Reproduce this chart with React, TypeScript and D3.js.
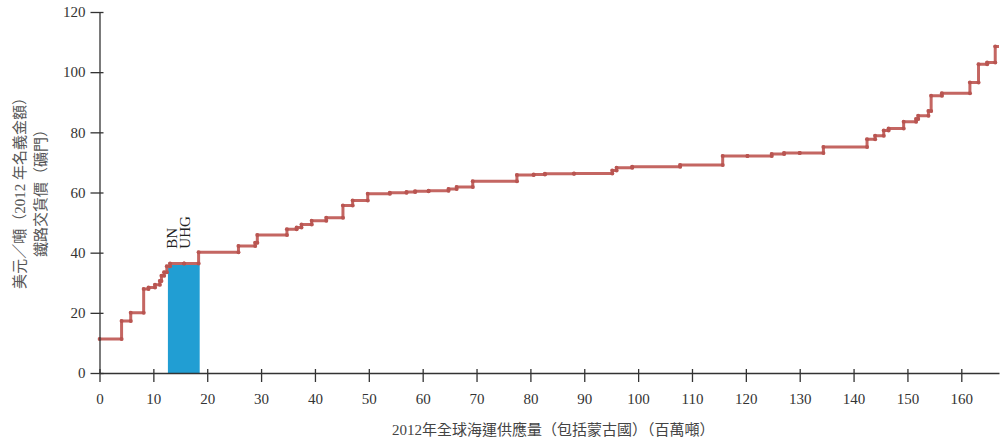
import React, { useEffect, useRef } from "react";
import * as d3 from "d3";

// mine capacity breakpoints (cumulative Mt) and cash cost (US$/t) of each step
const stepStarts = [
  0, 4.1, 5.8, 8.2, 9.1, 10.3, 11.2, 11.5, 12.0, 12.5, 13.1, 15.7, 18.4, 25.8,
  28.9, 29.3, 34.8, 36.6, 37.5, 39.4, 42.1, 45.2, 47.0, 49.8, 53.9, 57.0, 58.6,
  61.1, 64.8, 66.3, 69.3, 77.5, 80.6, 82.7, 88.1, 95.2, 96.0, 98.9, 107.8,
  115.7, 120.3, 124.8, 127.1, 130.0, 134.4, 142.5, 144.0, 145.6, 146.5, 149.3,
  151.6, 152.0, 153.9, 154.4, 156.4, 161.6, 163.2, 164.8, 166.3,
];
const stepEnd = 167.5;
const stepCosts = [
  11.3, 17.3, 20.0, 27.9, 28.4, 29.3, 30.6, 32.3, 33.5, 35.5, 36.4, 36.4, 40.1,
  42.2, 43.3, 45.9, 47.8, 48.4, 49.4, 50.6, 51.6, 55.7, 57.3, 59.6, 59.9, 60.2,
  60.4, 60.6, 61.2, 61.8, 63.7, 65.8, 66.0, 66.2, 66.3, 67.3, 68.2, 68.6, 69.1,
  72.1, 72.1, 72.8, 73.1, 73.1, 75.1, 77.7, 78.9, 80.6, 81.3, 83.5, 84.4, 85.5,
  87.1, 92.2, 93.0, 96.6, 102.6, 103.2, 108.5,
];

// highlighted mines
const highlightNames = ["BN", "UHG"];
const highlightRange = [12.7, 18.6];
const highlightCost = 36;

const xTicks = d3.range(0, 161, 10);
const yTicks = d3.range(0, 121, 20);

const yTitle = ["美元／噸（2012 年名義金額）", "鐵路交貨價（礦門）"];
const xTitle = "2012年全球海運供應量（包括蒙古國）（百萬噸）";

const W = 1000;
const H = 442;
const margin = { top: 12, right: 1, bottom: 69, left: 99.5 };

export default function App() {
  const ref = useRef<SVGGElement>(null);

  useEffect(() => {
    const g = d3.select(ref.current);
    g.selectAll("*").remove();
    const width = W - margin.left - margin.right;
    const height = H - margin.top - margin.bottom;

    const x = d3.scaleLinear().domain([0, 167]).range([0, width]);
    const y = d3.scaleLinear().domain([0, 120]).range([height, 0]);

    // blue highlight bar
    g.append("rect")
      .attr("x", x(highlightRange[0]))
      .attr("y", y(highlightCost))
      .attr("width", x(highlightRange[1]) - x(highlightRange[0]))
      .attr("height", y(0) - y(highlightCost))
      .attr("fill", "#219ed3");

    // step line
    const pts: [number, number][] = [];
    stepStarts.forEach((s, i) => {
      const e = i < stepStarts.length - 1 ? stepStarts[i + 1] : stepEnd;
      pts.push([s, stepCosts[i]]);
      pts.push([e, stepCosts[i]]);
    });
    g.append("clipPath")
      .attr("id", "plotclip")
      .append("rect")
      .attr("x", -2)
      .attr("y", -5)
      .attr("width", width + 2)
      .attr("height", height + 10);

    const line = d3
      .line<[number, number]>()
      .x((d) => x(d[0]))
      .y((d) => y(d[1]));
    const lg = g.append("g").attr("clip-path", "url(#plotclip)");
    lg.append("path")
      .datum(pts)
      .attr("fill", "none")
      .attr("stroke", "#c46662")
      .attr("stroke-width", 3)
      .attr("d", line);
    lg.selectAll("circle")
      .data(pts)
      .enter()
      .append("circle")
      .attr("cx", (d) => x(d[0]))
      .attr("cy", (d) => y(d[1]))
      .attr("r", 2)
      .attr("fill", "#b95551");

    // labels of highlighted mines
    const lbl = g
      .append("text")
      .attr(
        "transform",
        `translate(${x(highlightRange[0]) + 9},${y(highlightCost) - 16}) rotate(-90)`
      )
      .attr("font-family", "Liberation Serif, serif")
      .attr("font-size", 15)
      .attr("fill", "#222");
    highlightNames.forEach((n, i) => {
      lbl
        .append("tspan")
        .attr("x", 0)
        .attr("dy", i === 0 ? 0 : 13)
        .text(n);
    });

    // axes
    const xAxis = g
      .append("g")
      .attr("transform", `translate(0,${height})`)
      .call(d3.axisBottom(x).tickValues(xTicks).tickSize(9).tickSizeOuter(0).tickPadding(11));
    const yAxis = g
      .append("g")
      .call(d3.axisLeft(y).tickValues(yTicks).tickSize(9).tickSizeOuter(0).tickPadding(5));
    [xAxis, yAxis].forEach((a) => {
      a.selectAll("path, line").attr("stroke", "#333").attr("stroke-width", 1.3);
      a.selectAll("text")
        .attr("font-family", "Liberation Serif, serif")
        .attr("font-size", 15)
        .attr("fill", "#333");
    });
    xAxis.selectAll(".tick line").attr("y1", -4);
    yAxis.selectAll(".tick line").attr("x1", 4);

    // titles
    g.append("text")
      .attr("x", width / 2 + 4)
      .attr("y", height + 62)
      .attr("text-anchor", "middle")
      .attr("font-family", "Liberation Serif, Noto Sans CJK TC, serif")
      .attr("font-size", 15)
      .attr("fill", "#444")
      .text(xTitle);
    yTitle.forEach((t, i) => {
      g.append("text")
        .attr("transform", `translate(${-75 + i * 21},${height / 2 - 3}) rotate(-90)`)
        .attr("text-anchor", "middle")
        .attr("font-family", "Liberation Serif, Noto Sans CJK TC, serif")
        .attr("font-size", 15)
        .attr("fill", "#555")
        .text(t);
    });
  }, []);

  return (
    <svg
      width={W}
      height={H}
      style={{ position: "absolute", left: 0, top: 0, background: "#fff" }}
    >
      <g ref={ref} transform={`translate(${margin.left},${margin.top})`} />
    </svg>
  );
}
